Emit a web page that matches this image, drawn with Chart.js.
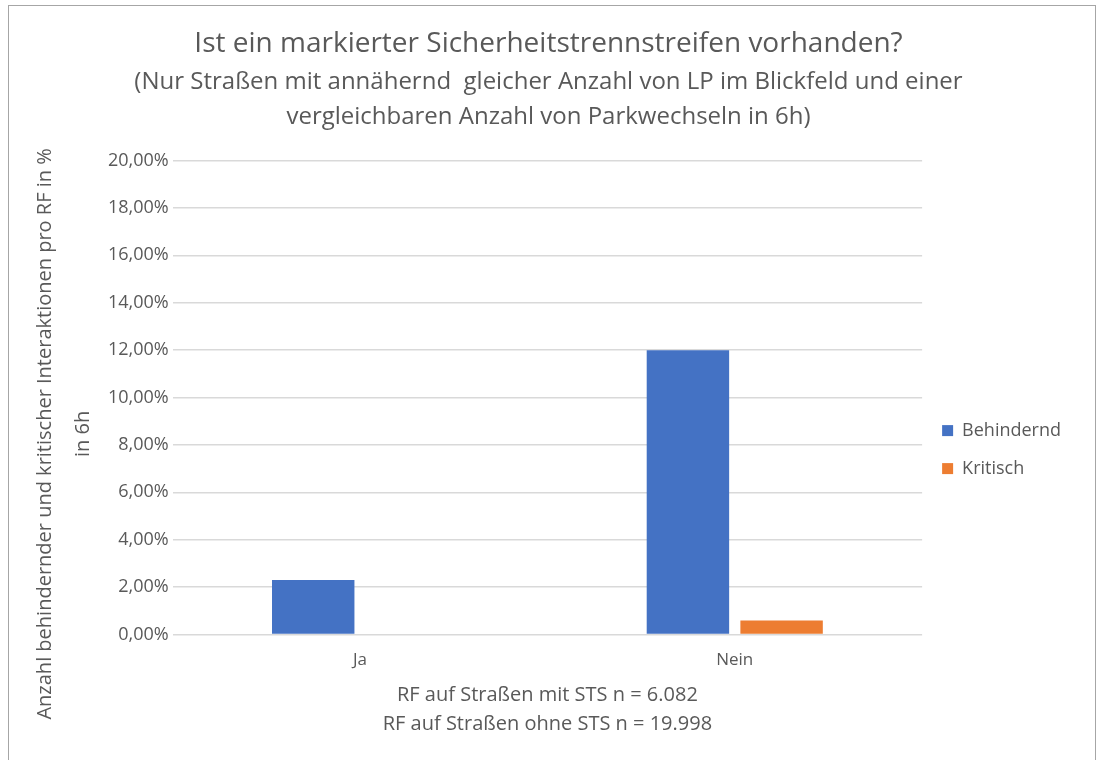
<!DOCTYPE html>
<html>
<head>
<meta charset="utf-8">
<script src="https://cdn.jsdelivr.net/npm/chart.js@4"></script>
<style>
  html, body { margin: 0; padding: 0; background: #fff; }
  #frame {
    position: absolute; left: 8px; top: 5px;
    width: 1088px; height: 760px;
    border: 1.5px solid #a6a6a6; border-bottom: none;
    box-sizing: border-box;
  }
  #wrap { position: absolute; left: 0; top: 0; width: 1086px; height: 755px; }
</style>
</head>
<body>
<div id="frame"><div id="wrap"><canvas id="chart"></canvas></div></div>
<script>
const categories = ["Ja", "Nein"];
const behindernd = [2.3, 12.0];
const kritisch = [0.0, 0.6];
const titleLine = "Ist ein markierter Sicherheitstrennstreifen vorhanden?";
const subtitleLines = [
  "(Nur Straßen mit annähernd  gleicher Anzahl von LP im Blickfeld und einer",
  "vergleichbaren Anzahl von Parkwechseln in 6h)"
];
// trailing spaces push the rotated title a bit lower, like the original
const yTitle = ["Anzahl behindernder und kritischer Interaktionen pro RF in %" + " ".repeat(14),
                "in 6h" + " ".repeat(14)];
const xTitle = ["RF auf Straßen mit STS n = 6.082", "RF auf Straßen ohne STS n = 19.998"];

const grey = "#595959";
Chart.defaults.font.family = "'Open Sans', sans-serif";
Chart.defaults.color = grey;

new Chart(document.getElementById("chart"), {
  type: "bar",
  data: {
    labels: categories,
    datasets: [
      {label: "Behindernd", data: behindernd, backgroundColor: "#4472c4"},
      {label: "Kritisch", data: kritisch, backgroundColor: "#ed7d31"}
    ]
  },
  options: {
    responsive: true,
    maintainAspectRatio: false,
    animation: false,
    categoryPercentage: 0.5,
    barPercentage: 0.88,
    layout: {padding: {left: 17, right: 24, top: 0, bottom: 18}},
    plugins: {
      title: {display: true, text: titleLine, color: grey,
        font: {size: 28, weight: "normal", lineHeight: 1.3}, padding: {top: 20, bottom: 0}},
      subtitle: {display: true, text: subtitleLines, color: grey,
        font: {size: 24, weight: "normal", lineHeight: 1.46}, padding: {top: 2, bottom: 26}},
      legend: {position: "right",
        title: {display: true, text: " ", padding: {top: 0, bottom: 131}, font: {size: 16}},
        labels: {boxWidth: 11, boxHeight: 11, padding: 20, color: grey, font: {size: 18}}},
      tooltip: {enabled: false}
    },
    scales: {
      x: {
        grid: {display: false},
        border: {display: false},
        ticks: {font: {size: 17}, color: grey, padding: 7},
        title: {display: true, text: xTitle, font: {size: 20, lineHeight: 1.45}, color: grey, padding: {top: 4}}
      },
      y: {
        min: 0, max: 20,
        ticks: {stepSize: 2, font: {size: 18}, color: grey, padding: 4,
          callback: v => v.toFixed(2).replace(".", ",") + "%"},
        grid: {color: "#d9d9d9", lineWidth: 1.5, drawTicks: false},
        border: {display: false},
        title: {display: true, text: yTitle, font: {size: 20, lineHeight: 1.9}, color: grey, padding: {top: 0, bottom: 2}}
      }
    }
  }
});
</script>
</body>
</html>
